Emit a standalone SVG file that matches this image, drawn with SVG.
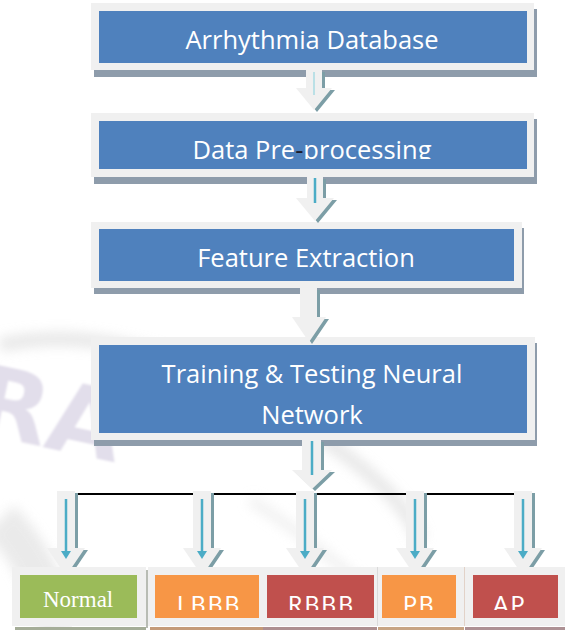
<svg xmlns="http://www.w3.org/2000/svg" width="565" height="630" viewBox="0 0 565 630">
  <style>
    .frame { fill: #f0f0f0; }
    .shadow { fill: #8e9cab; }
    .blue { fill: #4f81bd; }
    .label { font-family: "Open Sans", "Liberation Sans", sans-serif; font-size: 25.5px; fill: #ffffff; text-anchor: middle; }
    .cls { font-family: Lato, "Open Sans", sans-serif; font-size: 23px; fill: #ffffff; letter-spacing: 2px; }
    .arrow { fill: #f0f0f0; }
    .arrow-shadow { fill: #7c9ea6; }
    .flow { stroke: #4bacc6; stroke-width: 2.5; fill: none; }
    .bus { stroke: #000000; stroke-width: 2; }
  </style>
  <defs>
    <filter id="soft" x="-20%" y="-20%" width="140%" height="140%">
      <feGaussianBlur stdDeviation="6"/>
    </filter>
    <filter id="haze" x="-10%" y="-10%" width="120%" height="120%">
      <feGaussianBlur stdDeviation="1.2"/>
    </filter>
    <clipPath id="clip-pre"><rect x="99" y="121" width="428" height="38"/></clipPath>
    <clipPath id="clip-nn"><rect x="99" y="345" width="428" height="79"/></clipPath>
    <clipPath id="clip-cls"><rect x="0" y="575" width="565" height="35"/></clipPath>
  </defs>

  <rect width="565" height="630" fill="#ffffff"/>

  <!-- faint background watermark -->
  <g id="watermark">
    <path d="M0,345 Q120,320 260,400 T420,540" stroke="#d6d6d6" stroke-width="14" fill="none" filter="url(#soft)" opacity="0.55"/>
    <path d="M0,520 Q40,560 60,630" stroke="#e2e2e2" stroke-width="40" fill="none" filter="url(#soft)" opacity="0.7"/>
    <path d="M250,500 Q300,530 380,600" stroke="#e6e6e6" stroke-width="10" fill="none" filter="url(#soft)" opacity="0.6"/>
    <text x="-26" y="448" transform="rotate(12 50 420)" font-family="'DejaVu Sans', sans-serif" font-weight="bold" font-size="96" fill="#e2deeb" filter="url(#haze)">RA</text>
  </g>

  <!-- process boxes -->
  <g id="node-database">
    <rect class="shadow" x="94" y="9" width="443" height="68"/>
    <rect class="frame" x="91" y="3" width="443" height="67"/>
    <rect class="blue" x="99" y="11" width="428" height="52"/>
    <text class="label" x="312" y="49">Arrhythmia Database</text>
  </g>

  <g id="node-preprocessing">
    <rect class="shadow" x="94" y="119" width="443" height="65"/>
    <rect class="frame" x="91" y="113" width="443" height="64"/>
    <rect class="blue" x="99" y="121" width="428" height="48"/>
    <text class="label" x="312" y="159" clip-path="url(#clip-pre)">Data Pre<tspan fill="#1b1b2b">-</tspan>processing</text>
  </g>

  <g id="node-features">
    <rect class="shadow" x="94" y="228" width="430" height="66"/>
    <rect class="frame" x="91" y="222" width="431" height="66"/>
    <rect class="blue" x="99" y="229" width="415" height="52"/>
    <text class="label" x="306" y="267">Feature Extraction</text>
  </g>

  <g id="node-network">
    <rect class="shadow" x="94" y="343" width="443" height="103"/>
    <rect class="frame" x="91" y="337" width="444" height="103"/>
    <rect class="blue" x="99" y="345" width="428" height="88"/>
    <g clip-path="url(#clip-nn)">
      <text class="label" x="312" y="383">Training &amp; Testing Neural</text>
      <text class="label" x="312" y="424">Network</text>
    </g>
  </g>

  <!-- connectors -->
  <g id="connectors">
    <!-- database to pre-processing -->
    <path class="arrow-shadow" transform="translate(3,2)" d="M306,70 H322 V88 H332 L314,110 L296,88 H306 Z"/>
    <path class="arrow" d="M306,70 H322 V88 H332 L314,110 L296,88 H306 Z"/>
    <line x1="314" y1="72" x2="314" y2="95" stroke="#a9dbe3" stroke-width="1.5"/>

    <!-- pre-processing to features -->
    <path class="arrow-shadow" transform="translate(3,2)" d="M307,177 H323 V198 H334 L315,221 L296,198 H307 Z"/>
    <path class="arrow" d="M307,177 H323 V198 H334 L315,221 L296,198 H307 Z"/>
    <line class="flow" x1="315" y1="178" x2="315" y2="203" stroke-width="2"/>

    <!-- features to network -->
    <path class="arrow-shadow" transform="translate(3,2)" d="M300,288 H317 V317 H326 L309,342 L292,317 H300 Z"/>
    <path class="arrow" d="M300,288 H317 V317 H326 L309,342 L292,317 H300 Z"/>

    <!-- network to classes -->
    <path class="arrow-shadow" transform="translate(3,2)" d="M302,440 H321 V470 H332 L312,489 L292,470 H302 Z"/>
    <path class="arrow" d="M302,440 H321 V470 H332 L312,489 L292,470 H302 Z"/>
    <line class="flow" x1="312" y1="441" x2="312" y2="475"/>

    <line class="bus" x1="66" y1="494" x2="523" y2="494"/>

    <g id="branch-normal">
      <path class="arrow-shadow" transform="translate(3,2)" d="M57,491 H75 V548 H85 L66,576 L47,548 H57 Z"/>
      <path class="arrow" d="M57,491 H75 V548 H85 L66,576 L47,548 H57 Z"/>
      <path class="flow" d="M66,499 V552"/>
      <path fill="#4bacc6" d="M61,551 H71 L66,559 Z"/>
    </g>
    <g id="branch-lbbb">
      <path class="arrow-shadow" transform="translate(3,2)" d="M193,491 H211 V548 H221 L202,576 L183,548 H193 Z"/>
      <path class="arrow" d="M193,491 H211 V548 H221 L202,576 L183,548 H193 Z"/>
      <path class="flow" d="M202,499 V552"/>
      <path fill="#4bacc6" d="M197,551 H207 L202,559 Z"/>
    </g>
    <g id="branch-rbbb">
      <path class="arrow-shadow" transform="translate(3,2)" d="M296,491 H314 V548 H324 L305,576 L286,548 H296 Z"/>
      <path class="arrow" d="M296,491 H314 V548 H324 L305,576 L286,548 H296 Z"/>
      <path class="flow" d="M305,499 V552"/>
      <path fill="#4bacc6" d="M300,551 H310 L305,559 Z"/>
    </g>
    <g id="branch-pb">
      <path class="arrow-shadow" transform="translate(3,2)" d="M406,491 H424 V548 H434 L415,576 L396,548 H406 Z"/>
      <path class="arrow" d="M406,491 H424 V548 H434 L415,576 L396,548 H406 Z"/>
      <path class="flow" d="M415,499 V552"/>
      <path fill="#4bacc6" d="M410,551 H420 L415,559 Z"/>
    </g>
    <g id="branch-ap">
      <path class="arrow-shadow" transform="translate(3,2)" d="M514,491 H532 V548 H542 L523,576 L504,548 H514 Z"/>
      <path class="arrow" d="M514,491 H532 V548 H542 L523,576 L504,548 H514 Z"/>
      <path class="flow" d="M523,499 V552"/>
      <path fill="#4bacc6" d="M518,551 H528 L523,559 Z"/>
    </g>
  </g>

  <!-- class boxes -->
  <g id="node-normal">
    <rect x="15" y="627" width="131" height="3" fill="#a5ad98"/>
    <rect x="146" y="570" width="2" height="58" fill="#b8bcb4"/>
    <rect class="frame" x="12" y="567" width="134" height="59"/>
    <rect x="20" y="575" width="117" height="43" fill="#9bbb59"/>
    <text x="43" y="607" font-family="'Liberation Serif', serif" font-size="23" fill="#ffffff">Normal</text>
  </g>

  <g id="node-lbbb">
    <rect x="150" y="627" width="113" height="3" fill="#c49a78"/>
    <rect class="frame" x="148" y="567" width="115" height="59"/>
    <rect x="155" y="575" width="104" height="43" fill="#f79646"/>
    <text class="cls" x="177" y="613" clip-path="url(#clip-cls)">LBBB</text>
  </g>

  <g id="node-rbbb">
    <rect x="263" y="627" width="114" height="3" fill="#ad8f90"/>
    <rect class="frame" x="263" y="567" width="114" height="59"/>
    <rect x="267" y="575" width="107" height="43" fill="#c0504d"/>
    <text class="cls" x="288" y="613" clip-path="url(#clip-cls)">RBBB</text>
  </g>

  <g id="node-pb">
    <rect x="378" y="627" width="86" height="3" fill="#c7a585"/>
    <rect class="frame" x="378" y="567" width="86" height="59"/>
    <rect x="382" y="575" width="74" height="43" fill="#f79646"/>
    <text class="cls" x="403" y="613" clip-path="url(#clip-cls)">PB</text>
  </g>

  <g id="node-ap">
    <rect x="465" y="627" width="100" height="3" fill="#ad9194"/>
    <rect class="frame" x="465" y="567" width="100" height="59"/>
    <rect x="473" y="575" width="85" height="43" fill="#c0504d"/>
    <text class="cls" x="493" y="613" clip-path="url(#clip-cls)">AP</text>
  </g>
  <line x1="377.5" y1="567" x2="377.5" y2="626" stroke="#dadada" stroke-width="1"/>
  <line x1="464.5" y1="567" x2="464.5" y2="626" stroke="#e2d2c8" stroke-width="1"/>
</svg>
